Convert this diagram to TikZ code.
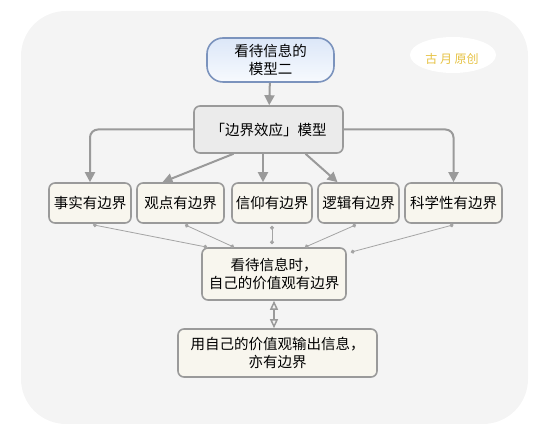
\documentclass[tikz,border=0pt]{standalone}
\usepackage{fontspec}
\setmainfont{Noto Sans CJK SC}
\usetikzlibrary{arrows.meta,calc,shapes.geometric}
\definecolor{bgc}{HTML}{F4F4F4}
\definecolor{edgec}{HTML}{9A9A9A}
\definecolor{boxfill}{HTML}{F8F6EE}
\definecolor{modelfill}{HTML}{EBEBEB}
\definecolor{topedge}{HTML}{7B93BD}
\definecolor{topfillA}{HTML}{DCE7F8}
\definecolor{topfillB}{HTML}{F7FAFE}
\definecolor{wmtext}{HTML}{E6C243}
\tikzset{
  base/.style={draw=edgec, line width=1.6pt, rounded corners=6pt, inner sep=0pt, align=center,
    font=\fontsize{14.5}{17.5}\selectfont},
  fact/.style={base, fill=boxfill, minimum height=40pt},
  bigarrow/.style={draw=edgec, line width=2pt, -{Triangle[length=10pt,width=10pt]}},
  thinlink/.style={draw=edgec!90, line width=0.8pt, {Circle[length=4pt]}-{Circle[length=4pt]}},
  dblarrow/.style={draw=edgec, line width=1.5pt, {Triangle[open,length=9pt,width=8pt]}-{Triangle[open,length=9pt,width=8pt]}}
}
\begin{document}
\begin{tikzpicture}[x=1pt,y=-1pt]
\useasboundingbox (0,0) rectangle (552,435);
\fill[bgc] (21,11) [rounded corners=45pt] rectangle (528,424);
% watermark
\node[ellipse, fill=white, minimum width=86pt, minimum height=36pt, inner sep=0pt] (wm) at (453,55) {};
\node[text=wmtext, font=\fontsize{12}{14}\selectfont] (wmt) at (452,59) {古 月 原创};
% nodes
\node[base, draw=topedge, top color=topfillA, bottom color=topfillB, rounded corners=16pt,
      minimum width=127pt, minimum height=44pt] (top) at (270.5,60) {看待信息的\\模型二};
\node[base, fill=modelfill, minimum width=149pt, minimum height=47pt] (model) at (268.5,129.5) {「边界效应」模型};
\node[fact, minimum width=82pt] (f1) at (90,203) {事实有边界};
\node[fact, minimum width=87pt] (f2) at (180.5,203) {观点有边界};
\node[fact, minimum width=80pt] (f3) at (272,203) {信仰有边界};
\node[fact, minimum width=81pt] (f4) at (358.5,203) {逻辑有边界};
\node[fact, minimum width=97pt] (f5) at (453.5,203) {科学性有边界};
\node[base, fill=boxfill, minimum width=144pt, minimum height=52pt] (mid) at (274,274) {看待信息时，\\自己的价值观有边界};
\node[base, fill=boxfill, minimum width=199pt, minimum height=48pt] (bot) at (277.5,353) {用自己的价值观输出信息，\\亦有边界};
% connectors
\draw[bigarrow] (top) -- (model);
\draw[bigarrow, rounded corners=8pt] (model.west) -| (f1.north);
\draw[bigarrow, rounded corners=8pt] (model.east) -| (f5.north);
\draw[bigarrow] ($(model.south)+(-35,0)$) -- ($(f2.north)+(-18,0)$);
\draw[bigarrow] ($(model.south)+(-5.5,0)$) -- ($(f3.north)+(-9,0)$);
\draw[bigarrow] ($(model.south)+(37,0)$) -- ($(f4.north)+(-21,0)$);
\draw[thinlink] ($(f1.south)+(3,1)$) -- ($(mid.north west)+(6,0)$);
\draw[thinlink] ($(f2.south)+(4.5,1)$) -- ($(mid.north)+(-40,0)$);
\draw[thinlink] ($(f3.south)+(0,2)$) -- ($(f3.south |- mid.north)+(0,-3)$);
\draw[thinlink] ($(f4.south)+(-2.5,1)$) -- ($(mid.north)+(31,0)$);
\draw[thinlink] ($(f5.south)+(0,1)$) -- ($(mid.north east)+(4,5)$);
\draw[dblarrow] (mid.south) -- (mid.south |- bot.north);
\end{tikzpicture}
\end{document}
